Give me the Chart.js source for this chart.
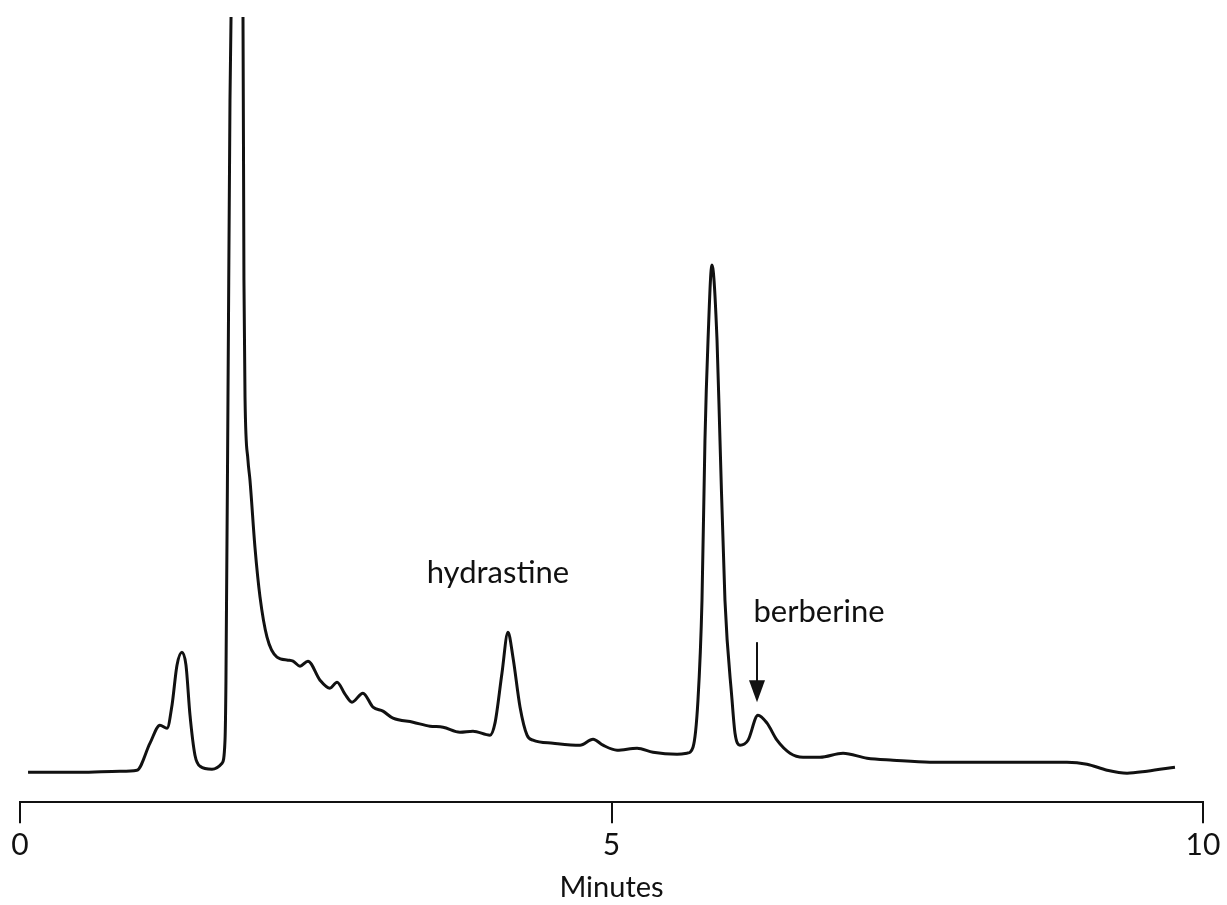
<!DOCTYPE html>
<html>
<head>
<meta charset="utf-8">
<script src="https://cdn.jsdelivr.net/npm/chart.js@4"></script>
<style>
  html, body { margin: 0; padding: 0; background: #fff; }
  #wrap { width: 1227px; height: 905px; }
</style>
</head>
<body>
<div id="wrap"><canvas id="chart" width="1227" height="905"></canvas></div>
<script>
// retention time (min) and detector response (arbitrary units, baseline = 0)
const minutes = [
  0.068, 0.507, 0.845, 0.989, 1.099, 1.183, 1.243, 1.285, 1.327, 1.369, 1.403, 1.437, 1.479, 1.522, 1.623, 1.708,
  1.733, 1.741, 1.758, 1.775, 1.784, 1.834, 1.885, 1.893, 1.902, 1.927, 1.944, 1.986, 2.029, 2.088, 2.172, 2.265,
  2.308, 2.367, 2.434, 2.536, 2.620, 2.680, 2.747, 2.806, 2.899, 2.984, 3.068, 3.153, 3.322, 3.466, 3.576, 3.719,
  3.829, 3.973, 4.015, 4.074, 4.125, 4.167, 4.227, 4.286, 4.336, 4.506, 4.734, 4.844, 4.928, 5.047, 5.216, 5.351,
  5.554, 5.638, 5.689, 5.731, 5.765, 5.790, 5.816, 5.849, 5.892, 5.917, 5.959, 6.019, 6.044, 6.086, 6.154, 6.238,
  6.315, 6.399, 6.509, 6.619, 6.762, 6.957, 7.160, 7.380, 7.692, 8.005, 8.563, 8.850, 9.019, 9.189, 9.358, 9.527,
  9.763
];
const response = [
  0, 0, 1, 2, 29, 47, 44, 67, 107, 120, 107, 57, 17, 6, 3, 9,
  32, 92, 372, 672, 755, 1022, 755, 492, 375, 312, 292, 225, 175, 135, 115, 112,
  111, 106, 111, 92, 84, 90, 78, 70, 79, 65, 61, 54, 50, 46, 45, 40,
  41, 37, 49, 99, 140, 115, 65, 37, 32, 29, 27, 33, 27, 22, 24, 20,
  18, 19, 25, 72, 172, 332, 432, 507, 432, 332, 172, 72, 39, 27, 32, 57,
  49, 32, 19, 15, 15, 19, 14, 12, 10, 10, 10, 10, 8, 2, -1, 1,
  5
];

const tickValues = [0, 5, 10];
const axisTitle = "Minutes";

// peak labels (text baseline position in data units)
const peakNames = ["hydrastine", "berberine"];
const peakLabelX = [4.04, 6.754];
const peakLabelY = [189, 150];

// arrow pointing at berberine peak
const arrowX = 6.23;
const arrowFrom = 130;
const arrowTo = 70;

const INK = "#111111";
const FONT = "Lato, 'Noto Sans', sans-serif";

const points = minutes.map((m, i) => ({ x: m, y: response[i] }));

const peakLabels = {
  id: "peakLabels",
  afterDatasetsDraw(chart) {
    const { ctx, scales: { x, y } } = chart;
    ctx.save();
    ctx.fillStyle = INK;
    ctx.font = "31px " + FONT;
    ctx.textAlign = "center";
    ctx.textBaseline = "alphabetic";
    peakNames.forEach((name, i) => {
      ctx.fillText(name, x.getPixelForValue(peakLabelX[i]), y.getPixelForValue(peakLabelY[i]));
    });

    // arrow
    const ax = x.getPixelForValue(arrowX);
    const y0 = y.getPixelForValue(arrowFrom);
    const y1 = y.getPixelForValue(arrowTo);
    ctx.strokeStyle = INK;
    ctx.lineWidth = 2;
    ctx.beginPath();
    ctx.moveTo(ax, y0);
    ctx.lineTo(ax, y1 - 20);
    ctx.stroke();
    ctx.beginPath();
    ctx.moveTo(ax - 8, y1 - 22);
    ctx.lineTo(ax + 8, y1 - 22);
    ctx.lineTo(ax, y1);
    ctx.closePath();
    ctx.fill();
    ctx.restore();
  }
};

new Chart(document.getElementById("chart"), {
  type: "line",
  data: {
    datasets: [{
      data: points,
      borderColor: INK,
      borderWidth: 3,
      pointRadius: 0,
      cubicInterpolationMode: "monotone",
      fill: false
    }]
  },
  options: {
    responsive: false,
    animation: false,
    events: [],
    layout: { padding: { left: 20, right: 24, top: 17, bottom: 0 } },
    plugins: { legend: { display: false }, tooltip: { enabled: false } },
    scales: {
      x: {
        type: "linear",
        min: 0,
        max: 10,
        afterBuildTicks: s => { s.ticks = tickValues.map(v => ({ value: v })); },
        grid: { display: true, drawOnChartArea: false, drawTicks: true, tickLength: 21, color: INK, lineWidth: 2 },
        border: { display: true, color: INK, width: 2 },
        ticks: { color: INK, padding: 4, maxRotation: 0, font: { family: FONT, size: 30 } },
        title: { display: true, text: axisTitle, color: INK, padding: { top: 3, bottom: 0 }, font: { family: FONT, size: 29 } }
      },
      y: {
        display: false,
        min: -30,
        max: 755
      }
    }
  },
  plugins: [peakLabels]
});
</script>
</body>
</html>
